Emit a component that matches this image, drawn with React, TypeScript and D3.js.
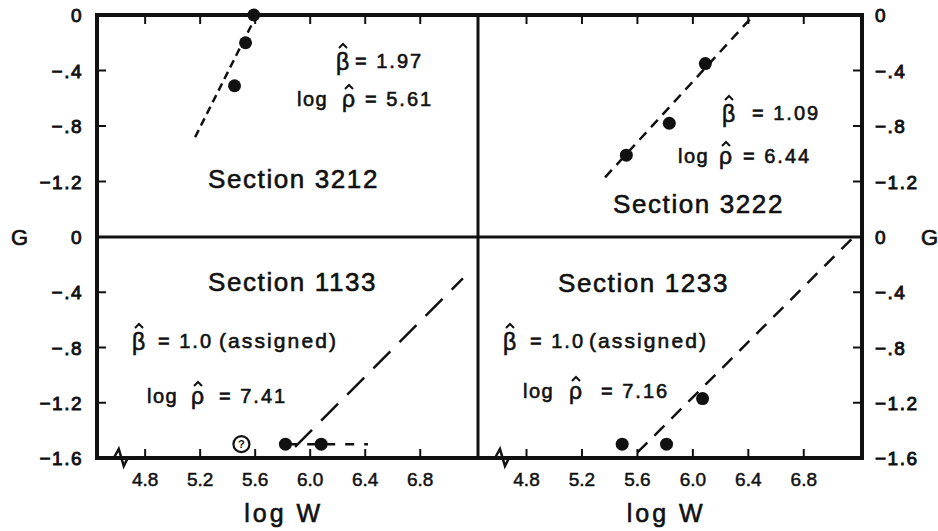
import React from "react";
import * as d3 from "d3";

// Weibull-type plots of G against log W for four sections
const sections = ["3212", "3222", "1133", "1233"];
const betaHat = [1.97, 1.09, 1.0, 1.0];
const betaNote = ["", "", "(assigned)", "(assigned)"];
const logRhoHat = [5.61, 6.44, 7.41, 7.16];
const obsLogW = [[5.45, 5.53, 5.59], [5.52, 5.83, 6.09], [5.82, 6.08], [5.49, 5.81, 6.07]];
const obsG = [[-0.51, -0.2, 0], [-1.01, -0.78, -0.35], [-1.5, -1.5], [-1.5, -1.5, -1.17]];
const fitGStart = [-0.88, -1.17, -1.52, -1.56];
const fitGEnd = [0, 0, -0.3, 0];
const questionedLogW = 5.5;
const questionedG = -1.5;
const flatLogW = [5.84, 6.42];
const flatG = -1.5;
const xTicks = [4.8, 5.2, 5.6, 6.0, 6.4, 6.8];
const yTicks = [0, -0.4, -0.8, -1.2, -1.6];
const xDomain = [4.45, 7.22];
const gDomain = [-1.6, 0];
const breakAt = 4.63;

const W = 938;
const H = 531;
const INK = "#111";
const FONT = "'Liberation Sans', Arial, sans-serif";

const frame = { left: 97, mid: 478, right: 862, top: 15, midY: 237, bottom: 458 };

type Panel = { x0: number; x1: number; y0: number; y1: number; side: "left" | "right"; edge: "top" | "bottom" };
const panels: Panel[] = [
  { x0: frame.left, x1: frame.mid, y0: frame.top, y1: frame.midY, side: "left", edge: "top" },
  { x0: frame.mid, x1: frame.right, y0: frame.top, y1: frame.midY, side: "right", edge: "top" },
  { x0: frame.left, x1: frame.mid, y0: frame.midY, y1: frame.bottom, side: "left", edge: "bottom" },
  { x0: frame.mid, x1: frame.right, y0: frame.midY, y1: frame.bottom, side: "right", edge: "bottom" },
];

// annotation anchor points (section title, beta line, rho line)
const notes = [
  { title: [208, 188], beta: [336, 68], betaEq: [355, 68], note: [0, 0], log: [297, 106], rho: [342, 106], rhoEq: [365, 106], dash: "8,5" },
  { title: [613, 213], beta: [722, 120], betaEq: [752, 120], note: [0, 0], log: [678, 163], rho: [719, 163], rhoEq: [743, 163], dash: "10,7" },
  { title: [208, 291], beta: [132, 348], betaEq: [158, 348], note: [219, 348], log: [147, 403], rho: [191, 403], rhoEq: [219, 403], dash: "24,13" },
  { title: [558, 292], beta: [503, 348], betaEq: [530, 348], note: [589, 348], log: [523, 398], rho: [569, 398], rhoEq: [601, 398], dash: "14,10" },
];

const fmtG = (v: number) => {
  if (v === 0) return "0";
  const a = Math.abs(v).toFixed(1);
  return "\u2212" + (a.startsWith("0") ? a.slice(1) : a);
};
const fmtX = d3.format(".1f");

// circumflex drawn above a glyph
const hat = (cx: number, top: number) => `M${cx - 4},${top + 4} L${cx},${top} L${cx + 4},${top + 4}`;

export default function App() {
  return (
    <svg width={W} height={H} style={{ position: "absolute", left: 0, top: 0, background: "#fff" }} fontFamily={FONT}>
      <rect width={W} height={H} fill="#fff" />
      {panels.map((p, i) => {
        const x = d3.scaleLinear().domain(xDomain).range([p.x0, p.x1]);
        const y = d3.scaleLinear().domain(gDomain).range([p.y1, p.y0]);
        const n = notes[i];
        const fitLine = d3.line<number>().x((g) => x(logRhoHat[i] + g / betaHat[i])).y((g) => y(g));
        const axisX = p.side === "left" ? p.x0 : p.x1;
        const inward = p.side === "left" ? 1 : -1;
        const edgeY = p.edge === "top" ? p.y0 : p.y1;
        const edgeDir = p.edge === "top" ? 1 : -1;
        const labelG = p.edge === "top" ? yTicks.slice(0, 4) : yTicks;
        return (
          <g key={sections[i]}>
            {/* inward y ticks */}
            {yTicks.slice(1, 4).map((t) => (
              <line key={"yt" + t} x1={axisX} x2={axisX + inward * 9} y1={y(t)} y2={y(t)} stroke={INK} strokeWidth={2} />
            ))}
            {labelG.map((t) => (
              <text
                key={"yl" + t}
                x={p.side === "left" ? 83 : 875}
                y={y(t) + 7}
                textAnchor={p.side === "left" ? "end" : "start"}
                fontSize={19}
                letterSpacing={1.5}
                fill={INK}
                stroke={INK}
                strokeWidth={0.9}
              >
                {fmtG(t)}
              </text>
            ))}
            {/* inward x ticks */}
            {xTicks.map((t) => (
              <line key={"xt" + t} x1={x(t)} x2={x(t)} y1={edgeY} y2={edgeY + edgeDir * 9} stroke={INK} strokeWidth={2} />
            ))}
            {p.edge === "bottom" &&
              xTicks.map((t) => (
                <text key={"xl" + t} x={x(t)} y={486} textAnchor="middle" fontSize={19} fill={INK} stroke={INK} strokeWidth={0.5}>
                  {fmtX(t)}
                </text>
              ))}
            {p.edge === "bottom" && (
              <text x={(x(5.6) + x(6.0)) / 2 + 1} y={522} textAnchor="middle" fontSize={25} letterSpacing={3} fill={INK} stroke={INK} strokeWidth={0.6}>
                log W
              </text>
            )}
            {p.edge === "bottom" && (
              <path
                d={`M${x(breakAt) - 8},${p.y1} L${x(breakAt) - 3},${p.y1 - 9} L${x(breakAt) + 2},${p.y1 + 8} L${x(breakAt) + 6},${p.y1}`}
                fill="none"
                stroke={INK}
                strokeWidth={2.5}
              />
            )}
            {/* fitted line */}
            <path d={fitLine([fitGStart[i], fitGEnd[i]]) ?? ""} fill="none" stroke={INK} strokeWidth={2.5} strokeDasharray={n.dash} />
            {i === 2 && (
              <g>
                <line x1={x(flatLogW[0])} x2={x(flatLogW[1])} y1={y(flatG)} y2={y(flatG)} stroke={INK} strokeWidth={2.5} strokeDasharray="9,10" />
                <circle cx={x(questionedLogW)} cy={y(questionedG)} r={8} fill="#fff" stroke={INK} strokeWidth={2.2} />
                <text x={x(questionedLogW)} y={y(questionedG) + 4} textAnchor="middle" fontSize={11} fontWeight="bold" fill={INK}>
                  ?
                </text>
              </g>
            )}
            {obsLogW[i].map((w, j) => (
              <circle key={"pt" + j} cx={x(w)} cy={y(obsG[i][j])} r={6.5} fill={INK} />
            ))}
            {/* labels */}
            <g fill={INK} stroke={INK} strokeWidth={0.6}>
              <text x={n.title[0]} y={n.title[1]} fontSize={26} letterSpacing={1.6}>
                {"Section " + sections[i]}
              </text>
              <text x={n.beta[0]} y={n.beta[1] + 2} fontSize={23}>
                {"\u03b2"}
              </text>
              <path d={hat(n.beta[0] + 7, n.beta[1] - 24)} fill="none" strokeWidth={2} />
              <text x={n.betaEq[0]} y={n.betaEq[1]} fontSize={20} letterSpacing={2}>
                {"= " + (betaNote[i] ? betaHat[i].toFixed(1) : betaHat[i].toFixed(2))}
              </text>
              {betaNote[i] && (
                <text x={n.note[0]} y={n.note[1]} fontSize={21} letterSpacing={2.1}>
                  {betaNote[i]}
                </text>
              )}
              <text x={n.log[0]} y={n.log[1]} fontSize={20} letterSpacing={1.5}>
                log
              </text>
              <text x={n.rho[0]} y={n.rho[1] + 1} fontSize={23}>
                {"\u03c1"}
              </text>
              <path d={hat(n.rho[0] + 7, n.rho[1] - 21)} fill="none" strokeWidth={2} />
              <text x={n.rhoEq[0]} y={n.rhoEq[1]} fontSize={20} letterSpacing={2}>
                {"= " + logRhoHat[i].toFixed(2)}
              </text>
            </g>
          </g>
        );
      })}
      {/* frame */}
      <rect x={frame.left} y={frame.top} width={frame.right - frame.left} height={frame.bottom - frame.top} fill="none" stroke={INK} strokeWidth={4} />
      <line x1={frame.left} x2={frame.right} y1={frame.midY} y2={frame.midY} stroke={INK} strokeWidth={3} />
      <line x1={frame.mid} x2={frame.mid} y1={frame.top} y2={frame.bottom} stroke={INK} strokeWidth={3} />
      {/* G axis titles */}
      <g fill={INK} stroke={INK} strokeWidth={0.7} fontSize={22}>
        <text x={11} y={frame.midY + 8}>G</text>
        <text x={921} y={frame.midY + 8}>G</text>
      </g>
    </svg>
  );
}
